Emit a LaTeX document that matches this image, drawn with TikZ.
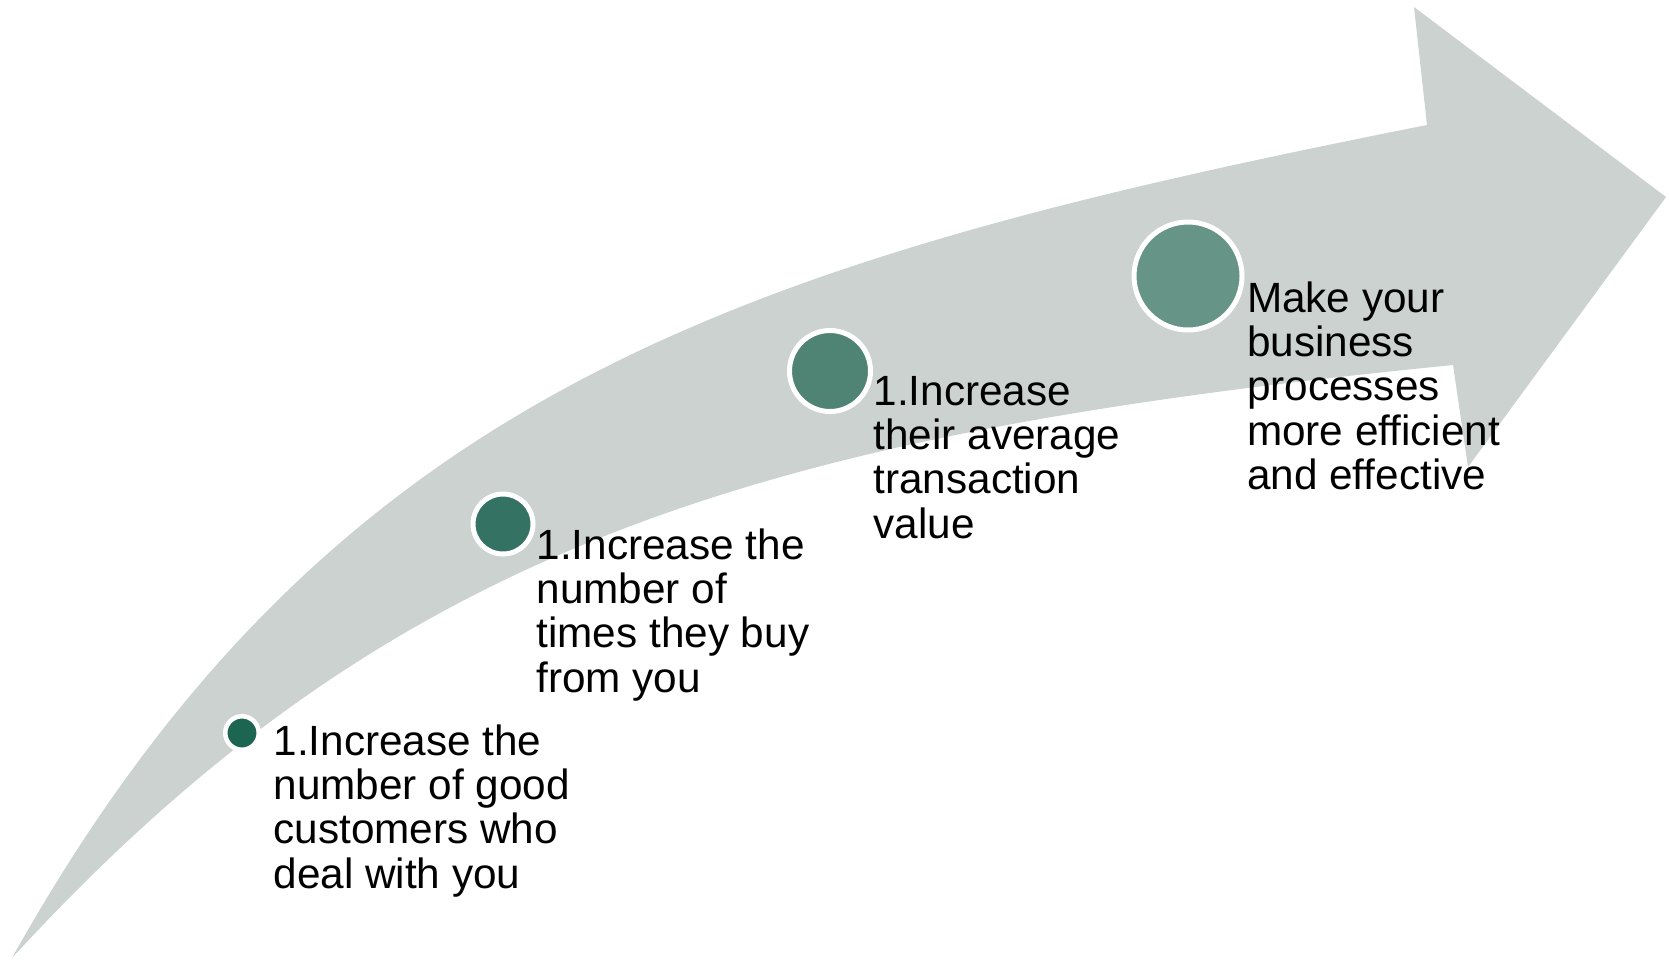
\documentclass[tikz,border=0pt]{standalone}
\usepackage{fontspec}
\setmainfont{Liberation Sans}
\definecolor{arrowgray}{HTML}{CBD2CF}
\definecolor{dotA}{HTML}{1B6551}
\definecolor{dotB}{HTML}{347363}
\definecolor{dotC}{HTML}{4F8374}
\definecolor{dotD}{HTML}{669588}
\tikzset{
  dot/.style={circle, draw=white, inner sep=0pt, outer sep=0pt},
  label/.style={anchor=base west, align=left, inner sep=0pt, outer sep=0pt,
    font=\fontsize{42.3}{44.4}\selectfont, text=black}
}
\begin{document}
\begin{tikzpicture}[x=1pt, y=-1pt]
\useasboundingbox (0,0) rectangle (1669,959);
% curved arrow
\fill[arrowgray] (12,958) .. controls (329,391) and (740,261) .. (1427,125)
  -- (1414,7) -- (1666,197) -- (1468,467) -- (1453,365)
  .. controls (757,434) and (391,545) .. (12,958) -- cycle;
% dots
\node[dot, fill=dotA, line width=4.5pt, minimum size=33.5pt] (d1) at (242,733) {};
\node[dot, fill=dotB, line width=5pt, minimum size=60pt] (d2) at (503,524) {};
\node[dot, fill=dotC, line width=5pt, minimum size=81pt] (d3) at (830,371) {};
\node[dot, fill=dotD, line width=5pt, minimum size=108pt] (d4) at (1188,276) {};
% labels (base anchor sits on the last line)
\node[label] (t1) at (273.5,888.2) {1.Increase the\\number of good\\customers who\\deal with you};
\node[label] (t2) at (536.5,692.2) {1.Increase the\\number of\\times they buy\\from you};
\node[label] (t3) at (873.5,538.2) {1.Increase\\their average\\transaction\\value};
\node[label] (t4) at (1247,489.6) {Make your\\business\\processes\\more efficient\\and effective};
\end{tikzpicture}
\end{document}
